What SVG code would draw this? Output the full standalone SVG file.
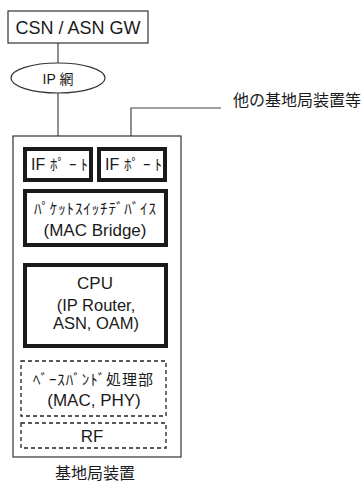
<svg xmlns="http://www.w3.org/2000/svg" width="363" height="484" viewBox="0 0 363 484">
<style>
.thin{fill:#fff;stroke:#333;stroke-width:1.2}
.thick{fill:#fff;stroke:#1a1a1a;stroke-width:4}
.dash{fill:#fff;stroke:#222;stroke-width:1.3;stroke-dasharray:4 3}
.ln{fill:none;stroke:#444;stroke-width:1.2}
text{font-family:"Liberation Sans","Noto Sans CJK JP",sans-serif;fill:#1a1a1a;text-anchor:middle}
.jp{font-family:"Noto Sans CJK JP",sans-serif}
.st{text-anchor:start}
</style>
<rect width="363" height="484" fill="#fff"/>
<g id="connectors">
<line class="ln" x1="58" y1="43" x2="58" y2="63"/>
<line class="ln" x1="58" y1="93" x2="58" y2="149"/>
<polyline class="ln" points="131,149 131,108 221,108"/>
<line class="ln" x1="58" y1="180" x2="58" y2="191"/>
<line class="ln" x1="131" y1="180" x2="131" y2="191"/>
<line class="ln" x1="98" y1="245" x2="98" y2="265"/>
<line class="ln" x1="98" y1="346" x2="98" y2="361"/>
<line class="ln" x1="98" y1="416" x2="98" y2="423"/>
</g>
<g id="csn">
<rect class="thin" x="8" y="11" width="140" height="32"/>
<text x="78" y="34" font-size="18">CSN / ASN GW</text>
</g>
<g id="ipnet">
<ellipse class="thin" cx="58" cy="78" rx="47" ry="15"/>
<text x="58" y="84" font-size="14">IP 網</text>
</g>
<g id="other">
<text class="jp" x="297" y="106" font-size="16">他の基地局装置等</text>
</g>
<g id="bs">
<rect class="thin" x="13" y="136" width="168" height="321"/>
<text class="jp" x="95" y="479" font-size="16">基地局装置</text>
</g>
<g id="if1">
<rect class="thick" x="25" y="149" width="66" height="31"/>
<text class="st" x="31" y="170" font-size="16">IF</text>
<text class="jp st" x="50" y="170" font-size="15" textLength="38" lengthAdjust="spacing">ﾎﾟｰﾄ</text>
</g>
<g id="if2">
<rect class="thick" x="99" y="149" width="66" height="31"/>
<text class="st" x="105" y="170" font-size="16">IF</text>
<text class="jp st" x="124" y="170" font-size="15" textLength="38" lengthAdjust="spacing">ﾎﾟｰﾄ</text>
</g>
<g id="switch">
<rect class="thick" x="25" y="191" width="141" height="54"/>
<text class="jp" x="95" y="214" font-size="15" textLength="122" lengthAdjust="spacing">ﾊﾟｹｯﾄｽｲｯﾁﾃﾞﾊﾞｲｽ</text>
<text x="95" y="236" font-size="17">(MAC Bridge)</text>
</g>
<g id="cpu">
<rect class="thick" x="25" y="265" width="141" height="81"/>
<text x="95" y="289" font-size="17">CPU</text>
<text x="96" y="311" font-size="16.5">(IP Router,</text>
<text x="96" y="329" font-size="16.5">ASN, OAM)</text>
</g>
<g id="baseband">
<rect class="dash" x="21" y="361" width="145" height="55"/>
<text class="jp" x="93" y="385" font-size="15" textLength="120" lengthAdjust="spacing">ﾍﾞｰｽﾊﾞﾝﾄﾞ処理部</text>
<text x="94" y="406" font-size="17">(MAC, PHY)</text>
</g>
<g id="rf">
<rect class="dash" x="21" y="423" width="145" height="25"/>
<text x="92" y="442" font-size="17">RF</text>
</g>
</svg>
